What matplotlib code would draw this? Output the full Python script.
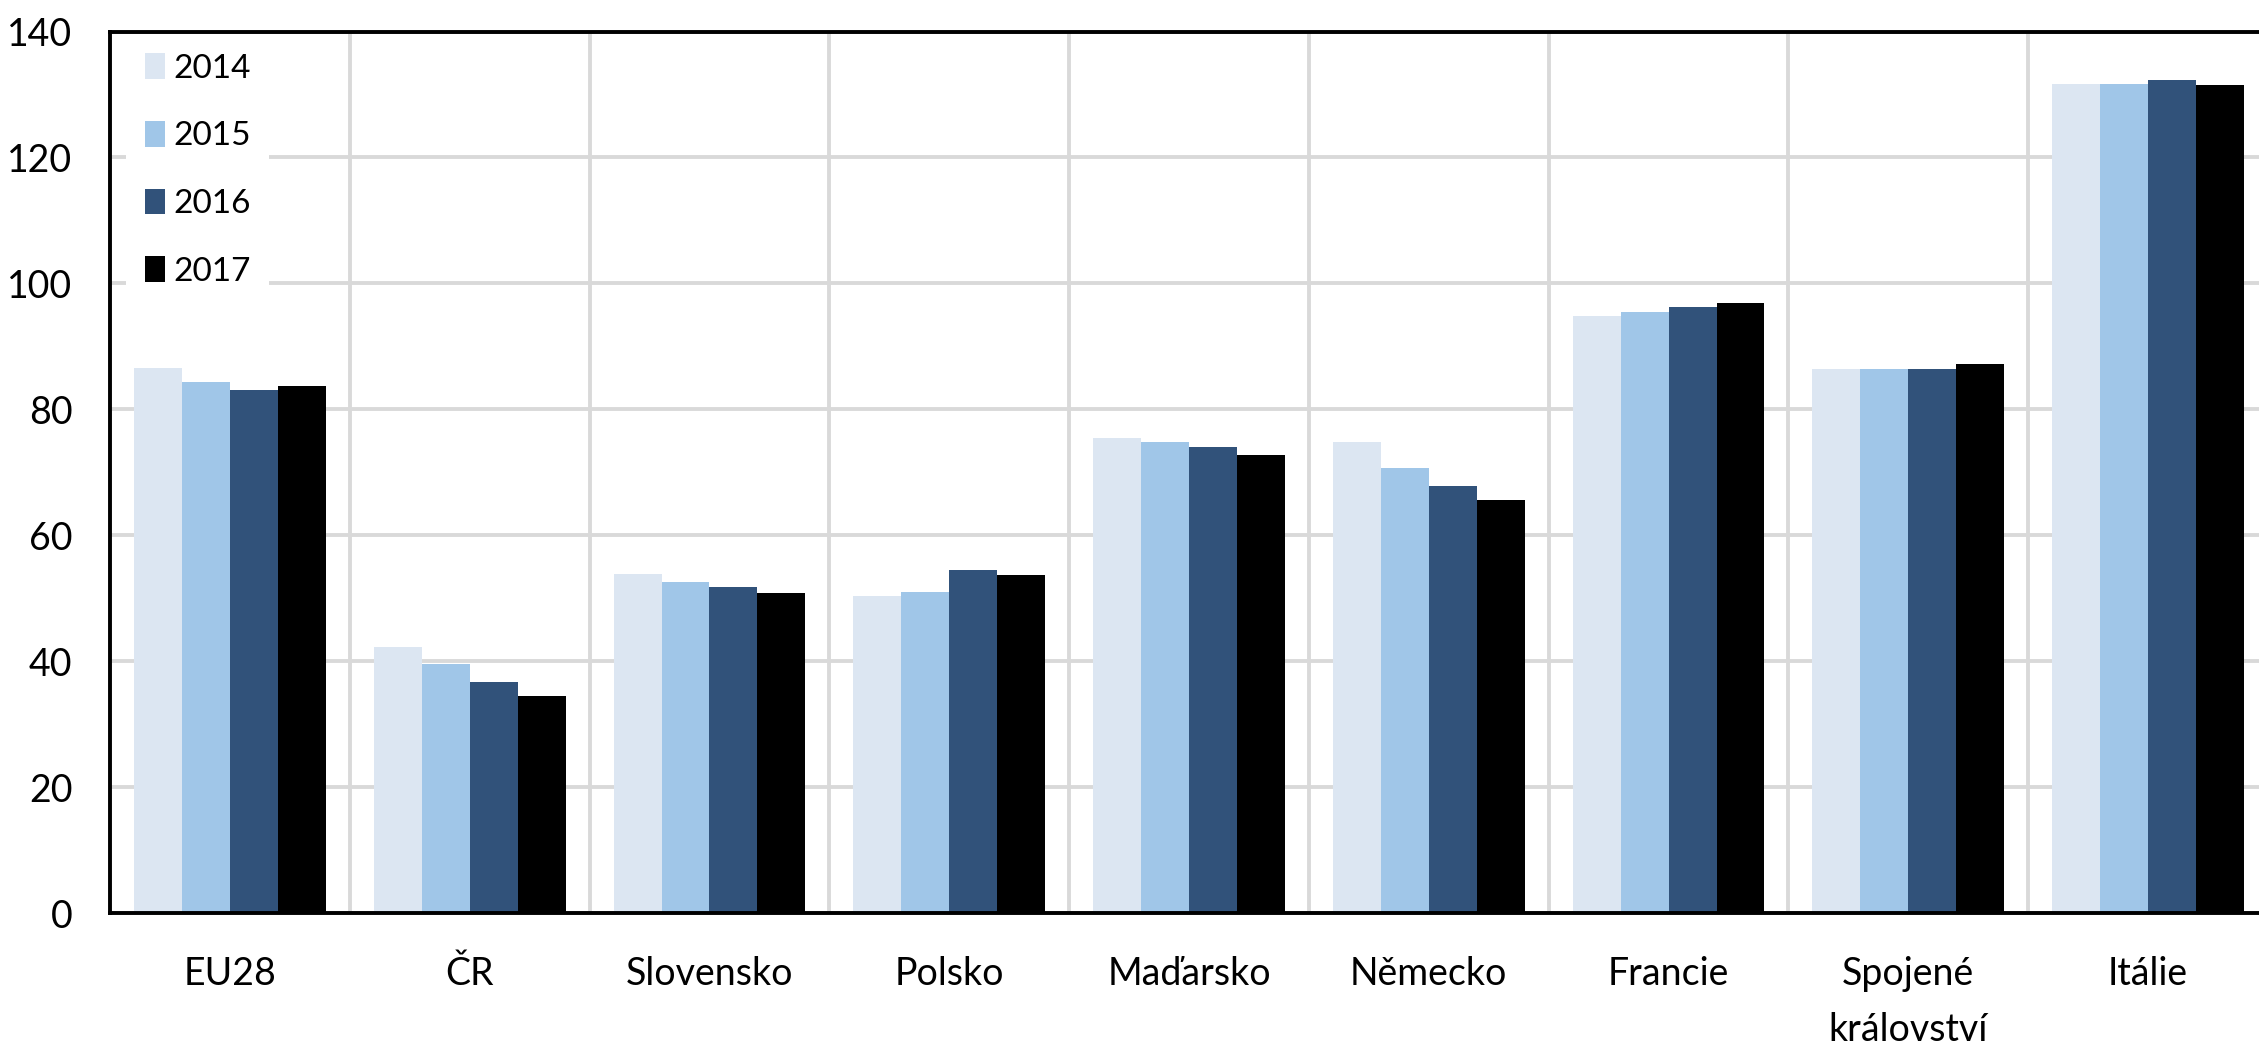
import matplotlib
matplotlib.use('Agg')
import matplotlib.pyplot as plt
import numpy as np

plt.rcParams['font.family'] = ['Lato', 'DejaVu Sans']

# Country groups and yearly values
countries = ['EU28', 'ČR', 'Slovensko', 'Polsko', 'Maďarsko', 'Německo',
             'Francie', 'Spojené\nkrálovství', 'Itálie']
years = ['2014', '2015', '2016', '2017']
v2014 = [86.5, 42.3, 53.8, 50.3, 75.4, 74.8, 94.8, 86.4, 131.6]
v2015 = [84.4, 39.6, 52.5, 51.0, 74.8, 70.6, 95.5, 86.4, 131.6]
v2016 = [83.0, 36.7, 51.7, 54.5, 74.0, 67.8, 96.2, 86.4, 132.3]
v2017 = [83.7, 34.5, 50.9, 53.7, 72.7, 65.6, 96.9, 87.2, 131.5]

series = [v2014, v2015, v2016, v2017]
colors = ['#DCE6F2', '#A0C6E8', '#31527A', '#000000']

fig = plt.figure(figsize=(22.59, 10.51), dpi=100)
# axes runs slightly past the right edge of the canvas
ax = fig.add_axes([0.0487, 0.1313, 0.9553, 0.8387])

x = np.arange(len(countries))
width = 0.2
for i, (vals, col, yr) in enumerate(zip(series, colors, years)):
    ax.bar(x + (i - 1.5) * width, vals, width, color=col, label=yr,
           edgecolor='none', zorder=2)

ax.set_xlim(-0.5, len(countries) - 0.5)
ax.set_ylim(0, 140)
ax.set_yticks(np.arange(0, 141, 20))
ax.set_xticks(x)
ax.set_xticklabels(countries, linespacing=1.7)
ax.set_xticks(x[:-1] + 0.5, minor=True)

ax.set_axisbelow(True)
ax.yaxis.grid(True, color='#D9D9D9', linewidth=2.8)
ax.xaxis.grid(True, which='minor', color='#D9D9D9', linewidth=2.8)

ax.tick_params(axis='both', which='both', length=0)
ax.tick_params(axis='y', labelsize=27, pad=27)
ax.tick_params(axis='x', labelsize=27, pad=31)

for side in ['left', 'top', 'bottom']:
    ax.spines[side].set_linewidth(2.8)
    ax.spines[side].set_color('black')
ax.spines['right'].set_visible(False)

leg = ax.legend(loc='upper left', bbox_to_anchor=(0.006, 1.0), fontsize=24,
                frameon=True, fancybox=False, framealpha=1,
                handlelength=0.6, handleheight=0.81, handletextpad=0.27,
                labelspacing=1.12, borderpad=0.55, borderaxespad=0.1)
leg.get_frame().set_edgecolor('none')
leg.get_frame().set_facecolor('white')
leg.set_zorder(3)

plt.savefig('out.png', dpi=100)
plt.close()
